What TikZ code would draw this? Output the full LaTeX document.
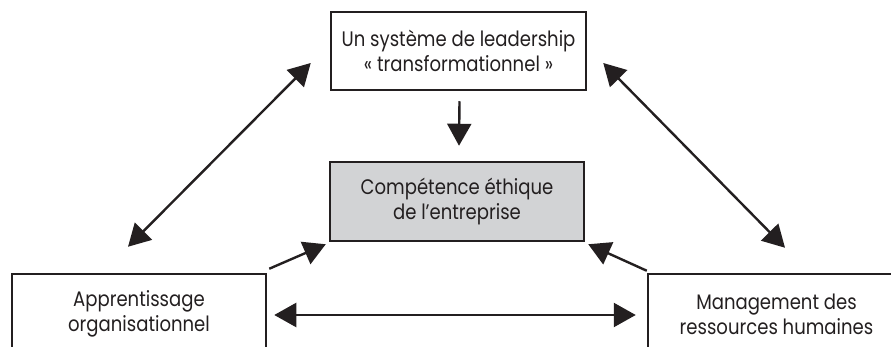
\documentclass[tikz,border=0pt]{standalone}
\usepackage{fontspec}
\setmainfont{Poppins}[FakeStretch=0.86]
\usetikzlibrary{arrows.meta,calc}
\definecolor{ink}{RGB}{35,31,32}
\definecolor{boxgray}{RGB}{210,211,213}
\begin{document}
\begin{tikzpicture}[x=1pt,y=1pt,
  box/.style={draw=ink, line width=2.5pt, inner sep=0pt, align=center,
    text=ink, font=\fontsize{21}{25}\selectfont},
  link/.style={draw=ink, line width=2.4pt,
    -{Triangle[length=22pt,width=24pt]}},
  both/.style={link, {Triangle[length=22pt,width=24pt]}-{Triangle[length=22pt,width=24pt]}}]
\useasboundingbox (0,0) rectangle (891,-347);
\clip (0,0) rectangle (891,-347);

% the four boxes
\node[box, minimum width=255pt, minimum height=78pt] (lead) at (458.5,-51)
  {Un système de leadership\\«~transformationnel~»};
\node[box, fill=boxgray, minimum width=254pt, minimum height=79pt] (ethic) at (457,-201.5)
  {Compétence éthique\\de l{\char"0027}entreprise};
\node[box, minimum width=254pt, minimum height=80pt] (learn) at (139,-314)
  {Apprentissage\\organisationnel};
\node[box, minimum width=257pt, minimum height=80pt] (hrm) at (776.5,-314)
  {Management des\\ressources humaines};

% connectors
\draw[link] ([shift={(1pt,-10pt)}]lead.south) -- ([shift={(2pt,15pt)}]ethic.north);
\draw[both] ([shift={(-11pt,26pt)}]learn.north) -- ([shift={(-19pt,-12pt)}]lead.west);
\draw[both] ([shift={(16pt,-12pt)}]lead.east) -- ([shift={(8.5pt,25pt)}]hrm.north);
\draw[link] ([shift={(2pt,4pt)}]learn.north east) -- ([shift={(-3pt,-2pt)}]ethic.south west);
\draw[link] ([shift={(0pt,2pt)}]hrm.north west) -- ([shift={(3pt,-2pt)}]ethic.south east);
\draw[both] ([shift={(7pt,-1pt)}]learn.east) -- ([shift={(-11pt,-1pt)}]hrm.west);
\end{tikzpicture}
\end{document}
